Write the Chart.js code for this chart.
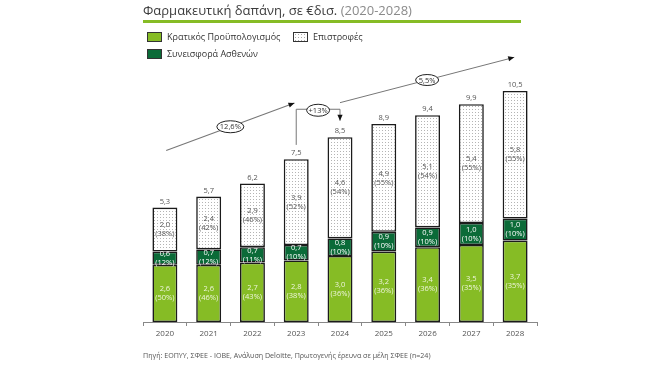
<!DOCTYPE html>
<html><head><meta charset="utf-8">
<script src="https://cdn.jsdelivr.net/npm/chart.js@4.4.1/dist/chart.umd.min.js"></script>
<style>
html,body{margin:0;padding:0;background:#fff;width:652px;height:367px;overflow:hidden;font-family:'Open Sans',sans-serif}
#wrap{position:absolute;left:0;top:0;width:652px;height:367px}
.title{position:absolute;left:143px;top:1px;font-size:13px;line-height:18px;color:#3c3c3c;white-space:nowrap}
.title span{color:#8a8a8a}
.rule{position:absolute;left:143px;top:20px;width:378px;height:3px;background:#86bc25}
.leg{position:absolute;font-size:9px;line-height:11px;color:#333;white-space:nowrap;display:flex;align-items:center}
.sw{display:inline-block;width:13px;height:8px;border:1px solid #333;margin-right:5px}
.dots{background:#fff radial-gradient(circle,#aaa 0.6px,transparent 0.8px);background-size:3px 3px}
.src{position:absolute;left:143px;top:350px;font-size:7.1px;line-height:10px;color:#555;white-space:nowrap}
</style></head><body>
<div id="wrap"><canvas id="c"></canvas></div>
<div class="title">Φαρμακευτική δαπάνη, σε €δισ. <span>(2020-2028)</span></div>
<div class="rule"></div>
<div class="leg" style="left:147px;top:31px"><i class="sw" style="background:#86bc25"></i>Κρατικός Προϋπολογισμός</div>
<div class="leg" style="left:293px;top:31px"><i class="sw dots"></i>Επιστροφές</div>
<div class="leg" style="left:147px;top:48px"><i class="sw" style="background:#0b6b38"></i>Συνεισφορά Ασθενών</div>
<div class="src">Πηγή: ΕΟΠΥΥ, ΣΦΕΕ - ΙΟΒΕ, Ανάλυση Deloitte, Πρωτογενής έρευνα σε μέλη ΣΦΕΕ (n=24)</div>
<script>
// ---- data ----
const years = ['2020','2021','2022','2023','2024','2025','2026','2027','2028'];
const stateBudget = [2.6,2.6,2.7,2.8,3.0,3.2,3.4,3.5,3.7];
const stateBudgetPct = [50,46,43,38,36,36,36,35,35];
const patientContribution = [0.6,0.7,0.7,0.7,0.8,0.9,0.9,1.0,1.0];
const patientContributionPct = [12,12,11,10,10,10,10,10,10];
const rebates = [2.0,2.4,2.9,3.9,4.6,4.9,5.1,5.4,5.8];
const rebatesPct = [38,42,46,52,54,55,54,55,55];
const totals = [5.3,5.7,6.2,7.5,8.5,8.9,9.4,9.9,10.5];
const growthLabels = ['12,6%','+13%','5,5%'];

const FONT = "'Open Sans', sans-serif";
const fmt = v => v.toFixed(1).replace('.', ',');

const canvas = document.getElementById('c');
function makePattern(){
  const c = document.createElement('canvas'); c.width = 3; c.height = 3;
  const g = c.getContext('2d');
  g.fillStyle = '#fff'; g.fillRect(0,0,3,3);
  g.fillStyle = '#b4b4b4'; g.fillRect(1,1,1,1);
  return canvas.getContext('2d').createPattern(c, 'repeat');
}

const labelPlugin = {
  id: 'labels',
  afterDatasetsDraw(chart){
    const ctx = chart.ctx;
    const pcts = [stateBudgetPct, patientContributionPct, rebatesPct];
    const cols = ['#eef5dc', '#ffffff', '#555555'];
    ctx.save();
    ctx.textAlign = 'center'; ctx.textBaseline = 'middle';
    ctx.font = '7.5px ' + FONT;
    chart.data.datasets.forEach((ds, di) => {
      const meta = chart.getDatasetMeta(di);
      meta.data.forEach((el, i) => {
        const cy = (el.y + el.base) / 2;
        ctx.fillStyle = cols[di];
        ctx.fillText(fmt(ds.data[i]), el.x, cy - 4.5);
        ctx.fillText('(' + pcts[di][i] + '%)', el.x, cy + 4.5);
      });
    });
    const top = chart.getDatasetMeta(2);
    ctx.fillStyle = '#555';
    top.data.forEach((el, i) => ctx.fillText(fmt(totals[i]), el.x, el.y - 6));
    ctx.restore();
  }
};

function arrowHead(ctx, x1, y1, x2, y2){
  const a = Math.atan2(y2 - y1, x2 - x1), L = 6, W = 2.6;
  ctx.beginPath();
  ctx.moveTo(x2, y2);
  ctx.lineTo(x2 - L*Math.cos(a) + W*Math.sin(a), y2 - L*Math.sin(a) - W*Math.cos(a));
  ctx.lineTo(x2 - L*Math.cos(a) - W*Math.sin(a), y2 - L*Math.sin(a) + W*Math.cos(a));
  ctx.closePath(); ctx.fill();
}
function oval(ctx, x, y, rx, ry, text){
  ctx.beginPath(); ctx.ellipse(x, y, rx, ry, 0, 0, Math.PI*2);
  ctx.fillStyle = '#fff'; ctx.fill();
  ctx.strokeStyle = '#222'; ctx.lineWidth = 1; ctx.stroke();
  ctx.fillStyle = '#333'; ctx.fillText(text, x, y + 0.5);
}

const annotPlugin = {
  id: 'annot',
  afterDraw(chart){
    const ctx = chart.ctx, xs = chart.scales.x, ys = chart.scales.y;
    const P = (i, v) => [xs.getPixelForValue(i), ys.getPixelForValue(v)];
    ctx.save();
    ctx.strokeStyle = '#777'; ctx.fillStyle = '#111'; ctx.lineWidth = 1.1;
    ctx.font = '7.5px ' + FONT; ctx.textAlign = 'center'; ctx.textBaseline = 'middle';
    // line 1
    let a = P(0.03, 7.8), b = P(2.96, 9.95);
    ctx.beginPath(); ctx.moveTo(...a); ctx.lineTo(...b); ctx.stroke();
    ctx.fillStyle = '#111'; arrowHead(ctx, ...a, ...b);
    oval(ctx, (a[0]+b[0])/2, (a[1]+b[1])/2, 13.5, 6, growthLabels[0]);
    // bracket
    const p1 = P(3, 8.05), p2 = P(3, 9.67), p3 = P(4, 9.67), p4 = P(4, 9.15);
    ctx.strokeStyle = '#777';
    ctx.beginPath(); ctx.moveTo(...p1); ctx.lineTo(...p2); ctx.lineTo(...p3); ctx.lineTo(...p4); ctx.stroke();
    ctx.fillStyle = '#111'; arrowHead(ctx, ...p3, ...p4);
    oval(ctx, (p2[0]+p3[0])/2, p2[1]+1, 11.5, 6, growthLabels[1]);
    // line 2
    a = P(4.0, 9.97); b = P(7.98, 12.03);
    ctx.strokeStyle = '#777';
    ctx.beginPath(); ctx.moveTo(...a); ctx.lineTo(...b); ctx.stroke();
    ctx.fillStyle = '#111'; arrowHead(ctx, ...a, ...b);
    oval(ctx, (a[0]+b[0])/2, (a[1]+b[1])/2, 11.5, 5.5, growthLabels[2]);
    ctx.restore();
  }
};

const dotted = makePattern();
const common = {borderColor:'#1b1b1b', borderWidth:1.6, borderSkipped:false, barPercentage:0.57, categoryPercentage:1};
new Chart(canvas, {
  type: 'bar',
  data: {
    labels: years,
    datasets: [
      Object.assign({label:'Κρατικός Προϋπολογισμός', data: stateBudget, backgroundColor:'#86bc25'}, common),
      Object.assign({label:'Συνεισφορά Ασθενών', data: patientContribution, backgroundColor:'#0b6b38'}, common),
      Object.assign({label:'Επιστροφές', data: rebates, backgroundColor: dotted}, common)
    ]
  },
  options: {
    responsive: true, maintainAspectRatio: false, animation: false,
    layout: {padding: {left:143, right:115, top:58, bottom:25}},
    plugins: {legend:{display:false}, tooltip:{enabled:false}},
    scales: {
      x: {
        stacked: true, offset: true,
        grid: {display:true, drawOnChartArea:false, drawTicks:true, tickLength:4, color:'#888', offset:true},
        border: {display:true, color:'#888', width:1},
        ticks: {color:'#555', font:{size:8, family:FONT}, padding:3, maxRotation:0},
        afterFit: s => { s.height = 20; }
      },
      y: {stacked: true, display:false, min:0, max:12}
    }
  },
  plugins: [labelPlugin, annotPlugin]
});
</script>
</body></html>
